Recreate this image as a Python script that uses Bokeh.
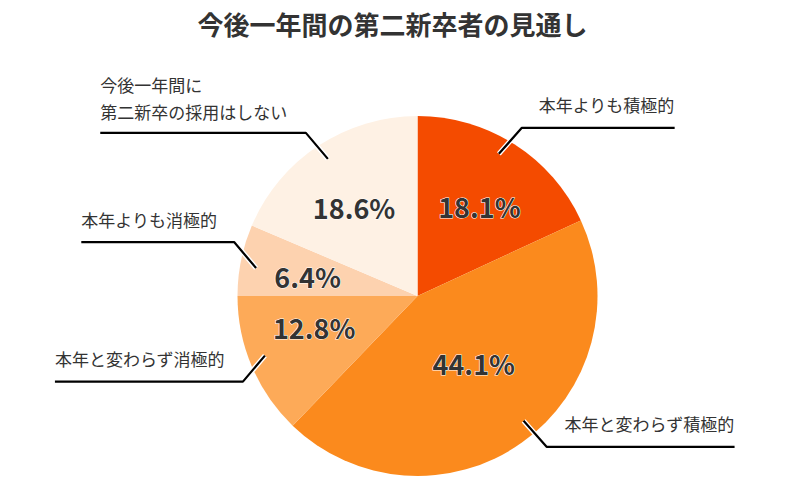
import math
from bokeh.plotting import figure
from bokeh.models import Range1d, ColumnDataSource
from bokeh.core.properties import value
from bokeh.embed import file_html
from bokeh.resources import INLINE

# ---- data ----
categories = ["本年よりも積極的", "本年と変わらず積極的", "本年と変わらず消極的",
              "本年よりも消極的", "今後一年間に\n第二新卒の採用はしない"]
shares = [18.1, 44.1, 12.8, 6.4, 18.6]
colors = ["#F44B00", "#FB8A1D", "#FDAA58", "#FDD2AF", "#FEF1E4"]
title_text = "今後一年間の第二新卒者の見通し"

# ---- layout (pixel-like coordinates, y up) ----
W, H = 787, 492
CX, CY, R = 417, H - 295.5, 180
pct_pos = [(2.1, 0.605), (-4.2, 0.49), (6.1, 0.60), (-1.5, 0.62), (-2.0, 0.607)]  # (deg shift, r frac)
lead_shift = [-2.8, -4.9, 1.7, -1.7, 0.3]  # deg shift of leader start
FONT = "Noto Sans CJK JP"
CHAR_W = 17.6

p = figure(width=W, height=H, x_range=Range1d(0, W), y_range=Range1d(0, H),
           output_backend="svg", toolbar_location=None, min_border=0)
p.axis.visible = False
p.grid.visible = False
p.outline_line_color = None
p.background_fill_color = "white"
p.border_fill_color = "white"

total = sum(shares)
starts, ends, mids = [], [], []
acc = 0.0
for v in shares:
    a0 = acc / total * 2 * math.pi
    acc += v
    a1 = acc / total * 2 * math.pi
    starts.append(math.pi / 2 - a0)
    ends.append(math.pi / 2 - a1)
    mids.append((a0 + a1) / 2)  # clockwise from top

src = ColumnDataSource(dict(start=starts, end=ends, color=colors))
p.wedge(x=CX, y=CY, radius=R, start_angle="start", end_angle="end",
        direction="clock", fill_color="color", line_color=None, source=src)

# percent labels
px, py, ptxt = [], [], []
for v, m, (sh, rf) in zip(shares, mids, pct_pos):
    a = m + math.radians(sh)
    px.append(CX + R * rf * math.sin(a))
    py.append(CY + R * rf * math.cos(a))
    ptxt.append(f"{v:.1f}%")
common = dict(text_font=value(FONT), text_font_style="bold", text_font_size="27px",
              text_align="center", text_baseline="middle")
# white halo underneath
p.text(x=px, y=py, text=ptxt, text_color="white", text_outline_color="white", **common)
p.text(x=px, y=py, text=ptxt, text_color="#333333", **common)

# leader lines and category labels
for lab, m, ls in zip(categories, mids, lead_shift):
    a = m + math.radians(ls)
    sx = CX + R * 0.91 * math.sin(a)
    sy = CY + R * 0.91 * math.cos(a)
    right = math.sin(m) > 0
    up = math.cos(m) > 0
    ex = sx + (23 if right else -22)
    ey = sy + (26 if up else -26)
    lines = lab.split("\n")
    width = max(len(s) for s in lines) * CHAR_W + 12
    hx = ex + (width if right else -width)
    xs = [sx, ex, hx]
    ys = [sy, ey, ey]
    p.line(xs, ys, line_color="white", line_width=5)
    p.line(xs, ys, line_color="black", line_width=2.2)
    n = len(lines)
    ty = ey + 23 + 12 * (n - 1)
    p.text(x=[hx], y=[ty], text=[lab], text_font=value(FONT), text_font_size="17px",
           text_color="#333333", text_align="right" if right else "left",
           text_baseline="middle", text_line_height=1.05)

# title
p.text(x=[392], y=[H - 23], text=[title_text], text_font=value(FONT),
       text_font_style="bold", text_font_size="26px", text_color="#333333",
       text_align="center", text_baseline="middle")

open("out.html", "w").write(file_html(p, INLINE))
